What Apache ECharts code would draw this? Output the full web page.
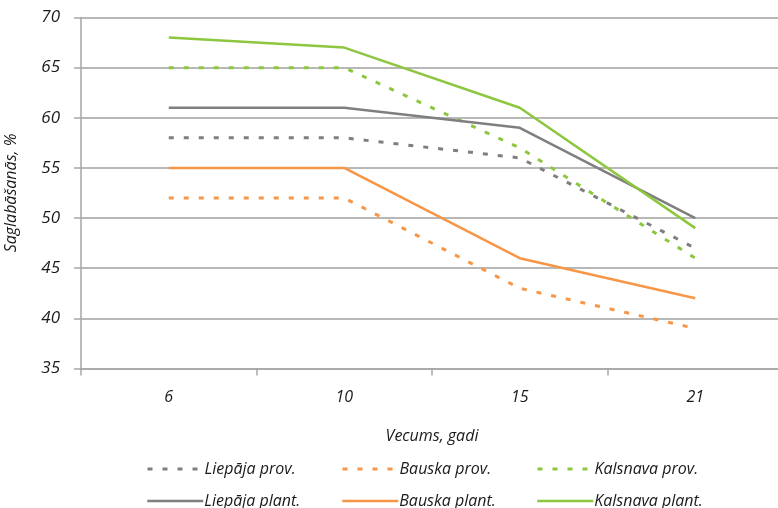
<!DOCTYPE html>
<html>
<head>
<meta charset="utf-8">
<script src="https://cdn.jsdelivr.net/npm/echarts@6/dist/echarts.min.js"></script>
<style>html,body{margin:0;padding:0;background:#fff}#c{width:778px;height:508px}</style>
</head>
<body>
<div id="c"></div>
<script>
const categories = ['6', '10', '15', '21'];
const seriesNames = ['Liepāja prov.', 'Bauska prov.', 'Kalsnava prov.', 'Liepāja plant.', 'Bauska plant.', 'Kalsnava plant.'];
const liepajaProv = [58, 58, 56, 47];
const bauskaProv = [52, 52, 43, 39];
const kalsnavaProv = [65, 65, 57, 46];
const liepajaPlant = [61, 61, 59, 50];
const bauskaPlant = [55, 55, 46, 42];
const kalsnavaPlant = [68, 67, 61, 49];
const yTicks = [35, 40, 45, 50, 55, 60, 65, 70];

const values = [liepajaProv, bauskaProv, kalsnavaProv, liepajaPlant, bauskaPlant, kalsnavaPlant];
const colors = ['#7f7f7f', '#f79646', '#8dc63f', '#7f7f7f', '#f79646', '#8dc63f'];
const dashed = [true, true, true, false, false, false];
const FONT = '"Open Sans", "DejaVu Sans", sans-serif';

const chart = echarts.init(document.getElementById('c'), null, {renderer: 'canvas'});

const legendPos = [
  {left: 141, top: 456}, {left: 336, top: 456}, {left: 531, top: 456},
  {left: 141, top: 488}, {left: 336, top: 488}, {left: 531, top: 488}
];

function lineStyleFor(i) {
  return {color: colors[i], width: dashed[i] ? 3 : 2.5, type: dashed[i] ? [5, 10] : 'solid'};
}

const option = {
  animation: false,
  backgroundColor: '#fff',
  grid: {left: 81, top: 17.5, width: 702, height: 351, containLabel: false, outerBoundsMode: 'none'},
  xAxis: {
    type: 'category',
    data: categories,
    boundaryGap: true,
    name: 'Vecums, gadi',
    nameLocation: 'middle',
    nameGap: 60,
    nameTextStyle: {fontFamily: FONT, fontStyle: 'italic', fontSize: 16, color: '#1a1a1a'},
    axisLine: {show: true, lineStyle: {color: '#a6a6a6', width: 1.5}},
    axisTick: {show: true, length: 7, lineStyle: {color: '#a6a6a6', width: 1.5}},
    axisLabel: {fontFamily: FONT, fontStyle: 'italic', fontSize: 16, color: '#1a1a1a', margin: 21}
  },
  yAxis: {
    type: 'value',
    min: yTicks[0],
    max: yTicks[yTicks.length - 1],
    interval: 5,
    name: 'Saglabāšanās, %',
    nameLocation: 'middle',
    nameGap: 62,
    nameRotate: 90,
    nameTextStyle: {fontFamily: FONT, fontStyle: 'italic', fontSize: 16, color: '#1a1a1a'},
    axisLine: {show: true, lineStyle: {color: '#a6a6a6', width: 1.5}},
    axisTick: {show: true, length: 7, lineStyle: {color: '#a6a6a6', width: 1.5}},
    axisLabel: {fontFamily: FONT, fontStyle: 'italic', fontSize: 17, color: '#1a1a1a', margin: 21},
    splitLine: {show: true, lineStyle: {color: '#a0a0a0', width: 1.5}}
  },
  legend: seriesNames.map((n, i) => ({
    data: [n],
    left: legendPos[i].left,
    top: legendPos[i].top,
    orient: 'horizontal',
    itemWidth: 56,
    itemHeight: 16,
    itemGap: 4,
    itemStyle: {opacity: 0},
    lineStyle: lineStyleFor(i),
    textStyle: {fontFamily: FONT, fontStyle: 'italic', fontSize: 16, color: '#1a1a1a', padding: [0, 0, 0, -4]}
  })),
  series: seriesNames.map((n, i) => ({
    name: n,
    type: 'line',
    data: values[i],
    symbol: 'none',
    color: colors[i],
    lineStyle: lineStyleFor(i),
    z: dashed[i] ? 2 : 3
  }))
};
chart.setOption(option);
</script>
</body>
</html>
